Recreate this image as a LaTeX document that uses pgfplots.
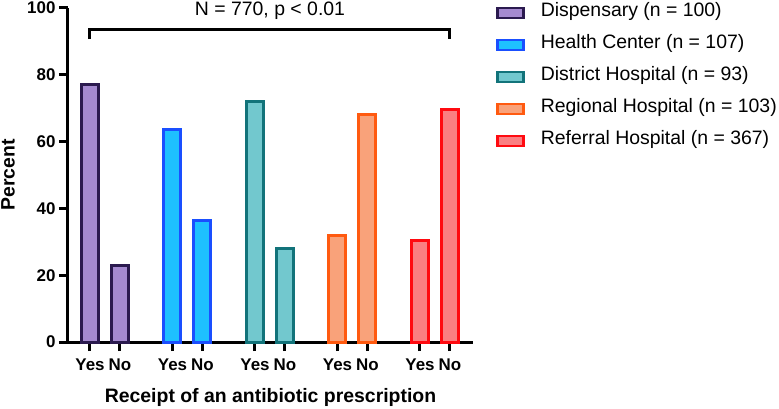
\documentclass[border=0pt]{standalone}
\usepackage{pgfplots}
\pgfplotsset{compat=1.18}
\usepackage{fontspec}
\setmainfont{Liberation Sans}
\definecolor{dispF}{HTML}{A58AD0}\definecolor{dispE}{HTML}{2B1A4F}
\definecolor{hcF}{HTML}{1EC0FF}\definecolor{hcE}{HTML}{1A4FFF}
\definecolor{dhF}{HTML}{72C8CE}\definecolor{dhE}{HTML}{12737A}
\definecolor{rgF}{HTML}{F9A27A}\definecolor{rgE}{HTML}{FF5A10}
\definecolor{rfF}{HTML}{FA7F82}\definecolor{rfE}{HTML}{FF0A10}
\begin{document}
\begin{tikzpicture}
\path[use as bounding box] (-68bp,-67bp) rectangle (711bp,342bp);
\begin{axis}[
  at={(0,0)}, anchor=south west,
  scale only axis, width=405bp, height=334bp,
  xmin=-0.733, xmax=12.767, ymin=0, ymax=100,
  axis lines=left,
  axis line style={-, line width=3bp, black},
  tick style={line width=3bp, black},
  tick align=outside,
  major tick length=9bp,
  xtick={0,1,2.75,3.75,5.5,6.5,8.25,9.25,11,12},
  xticklabels={Yes,No,Yes,No,Yes,No,Yes,No,Yes,No},
  ytick={0,20,40,60,80,100},
  /pgf/number format/assume math mode=true,
  ticklabel style={font=\fontsize{17}{19}\selectfont\bfseries},
  xticklabel style={yshift=-4bp},
  ylabel={Percent},
  xlabel={Receipt of an antibiotic prescription},
  every axis y label/.style={at={(axis description cs:-0.148,0.5)}, rotate=90, anchor=center, font=\fontsize{19.5}{21}\selectfont\bfseries},
  every axis x label/.style={at={(axis description cs:0.5,-0.167)}, anchor=center, font=\fontsize{19.5}{21}\selectfont\bfseries},
  clip=false,
  legend image code/.code={\draw[#1, line width=2.5bp] (0bp,-5bp) rectangle (26bp,5bp); \path (42bp,0bp);},
  legend style={at={(rel axis cs:1.057,1.015)}, anchor=north west, draw=none, fill=none, inner sep=0pt, outer sep=0pt,
    font=\fontsize{19.5}{21}\selectfont, row sep=12bp,
    nodes={inner sep=0pt, text height=14bp, text depth=6bp}},
  legend cell align=left,
]
\addplot[ybar, bar shift=0pt, bar width=17bp, line width=3bp, fill=dispF, draw=dispE] coordinates {(0,77) (1,23)};
\addlegendentry{Dispensary (n = 100)}
\addplot[ybar, bar shift=0pt, bar width=17bp, line width=3bp, fill=hcF, draw=hcE] coordinates {(2.75,63.5) (3.75,36.5)};
\addlegendentry{Health Center (n = 107)}
\addplot[ybar, bar shift=0pt, bar width=17bp, line width=3bp, fill=dhF, draw=dhE] coordinates {(5.5,72) (6.5,28)};
\addlegendentry{District Hospital (n = 93)}
\addplot[ybar, bar shift=0pt, bar width=17bp, line width=3bp, fill=rgF, draw=rgE] coordinates {(8.25,32) (9.25,68)};
\addlegendentry{Regional Hospital (n = 103)}
\addplot[ybar, bar shift=0pt, bar width=17bp, line width=3bp, fill=rfF, draw=rfE] coordinates {(11,30.5) (12,69.5)};
\addlegendentry{Referral Hospital (n = 367)}
\addplot[black, line width=3bp, forget plot] coordinates {(0,90.7) (0,93.7) (12,93.7) (12,90.7)};
\node[font=\fontsize{19.5}{21}\selectfont] at (axis cs:6,99.2) {N = 770, p < 0.01};
\end{axis}
\end{tikzpicture}
\end{document}
